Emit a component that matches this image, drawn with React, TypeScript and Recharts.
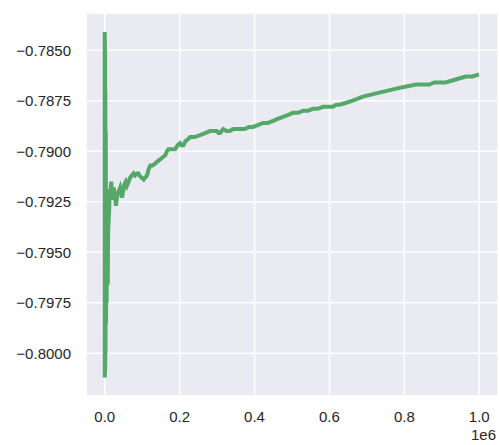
import React from 'react';
import { LineChart, Line, XAxis, YAxis, CartesianGrid } from 'recharts';

// iteration index (x) and running value (y)
const steps = [
  0, 200, 400, 700, 1000, 1300, 1700, 2200, 2800, 3500, 4200, 5000, 6000, 7000,
  8000, 9000, 10600, 12000, 13500, 15000, 17500, 19700, 22000, 24000, 27000,
  30000, 33000, 37000, 41000, 46000, 50000, 53000, 56000, 59500, 64000, 68000,
  72000, 77000, 81000, 86000, 90000, 93000, 98000, 104000, 108000, 113000,
  117000, 121500, 128000, 135000, 141000, 148000, 155000, 161500, 166000, 170000,
  179000, 188000, 195000, 201000, 205000, 210000, 216000, 223000, 228000, 240000,
  254500, 268000, 281000, 290000, 299000, 304000, 308000, 312000, 316500, 325000,
  334000, 343000, 352000, 363000, 374000, 385000, 396000, 410000, 423000, 436000,
  449500, 462000, 476000, 490000, 503000, 516000, 529000, 542000, 556000, 569000,
  582500, 596000, 609000, 618000, 627000, 645000, 662000, 676000, 689000, 711000,
  733000, 756000, 778000, 805000, 831000, 849000, 867000, 880000, 893000, 910000,
  928000, 946000, 964000, 982000, 999000,
];
const values = [
  -0.7841, -0.8012, -0.7845, -0.801, -0.785, -0.8008, -0.787, -0.8, -0.789,
  -0.7985, -0.7922, -0.7975, -0.7935, -0.7958, -0.7966, -0.794, -0.7934, -0.7928,
  -0.7919, -0.792, -0.7915, -0.7924, -0.7921, -0.7918, -0.7922, -0.7927, -0.7922,
  -0.792, -0.7918, -0.7923, -0.7919, -0.7916, -0.7915, -0.7917, -0.7915, -0.7913,
  -0.7912, -0.7911, -0.7912, -0.7911, -0.7911, -0.7912, -0.7913, -0.7914, -0.7913,
  -0.7912, -0.7909, -0.7907, -0.7907, -0.7906, -0.7905, -0.7904, -0.7903, -0.7902,
  -0.79, -0.7899, -0.7899, -0.7899, -0.7897, -0.7896, -0.7897, -0.7897, -0.7895,
  -0.7894, -0.7893, -0.7893, -0.7892, -0.7891, -0.789, -0.789, -0.789, -0.7891,
  -0.7891, -0.789, -0.7889, -0.789, -0.789, -0.7889, -0.7889, -0.7889, -0.7889,
  -0.7888, -0.7888, -0.7887, -0.7886, -0.7886, -0.7885, -0.7884, -0.7883, -0.7882,
  -0.7881, -0.7881, -0.788, -0.788, -0.7879, -0.7879, -0.7878, -0.7878, -0.7878,
  -0.7877, -0.7877, -0.7876, -0.7875, -0.7874, -0.7873, -0.7872, -0.7871, -0.787,
  -0.7869, -0.7868, -0.7867, -0.7867, -0.7867, -0.7866, -0.7866, -0.7866, -0.7865,
  -0.7864, -0.7863, -0.7863, -0.7862,
];

const xTicks = [0, 200000, 400000, 600000, 800000, 1000000];
const yTicks = [-0.8, -0.7975, -0.795, -0.7925, -0.79, -0.7875, -0.785];

const data = steps.map((s, i) => ({ step: s, value: values[i] }));

const font = 'Liberation Sans, Arial, sans-serif';
const tickStyle = { fill: '#262626', fontSize: 15, fontFamily: font };

const fmtX = (v: number) => (v / 1e6).toFixed(1);
const fmtY = (v: number) => '\u2212' + Math.abs(v).toFixed(4);

export default function App() {
  return (
    <div style={{ position: 'fixed', left: 0, top: 0, width: 499, height: 445, background: '#fff' }}>
      <LineChart width={499} height={445} data={data} margin={{ top: 13, right: 1, bottom: 19, left: 0 }}>
        <CartesianGrid fill="#EAEAF2" stroke="#ffffff" strokeWidth={1.5} />
        <XAxis
          dataKey="step"
          type="number"
          domain={[-50000, 1050000]}
          ticks={xTicks}
          tickFormatter={fmtX}
          axisLine={false}
          tickLine={false}
          tickSize={0}
          tickMargin={15}
          height={30}
          tick={tickStyle}
        />
        <YAxis
          type="number"
          domain={[-0.80211, -0.78316]}
          ticks={yTicks}
          tickFormatter={fmtY}
          axisLine={false}
          tickLine={false}
          tickSize={0}
          tickMargin={15}
          width={86}
          tick={tickStyle}
        />
        <Line
          type="linear"
          dataKey="value"
          stroke="#55A868"
          strokeWidth={4}
          dot={false}
          isAnimationActive={false}
        />
      </LineChart>
      <div
        style={{
          position: 'absolute',
          left: 471,
          top: 427,
          fontSize: 15,
          fontFamily: font,
          color: '#262626',
          lineHeight: '16px',
        }}
      >
        1e6
      </div>
    </div>
  );
}
